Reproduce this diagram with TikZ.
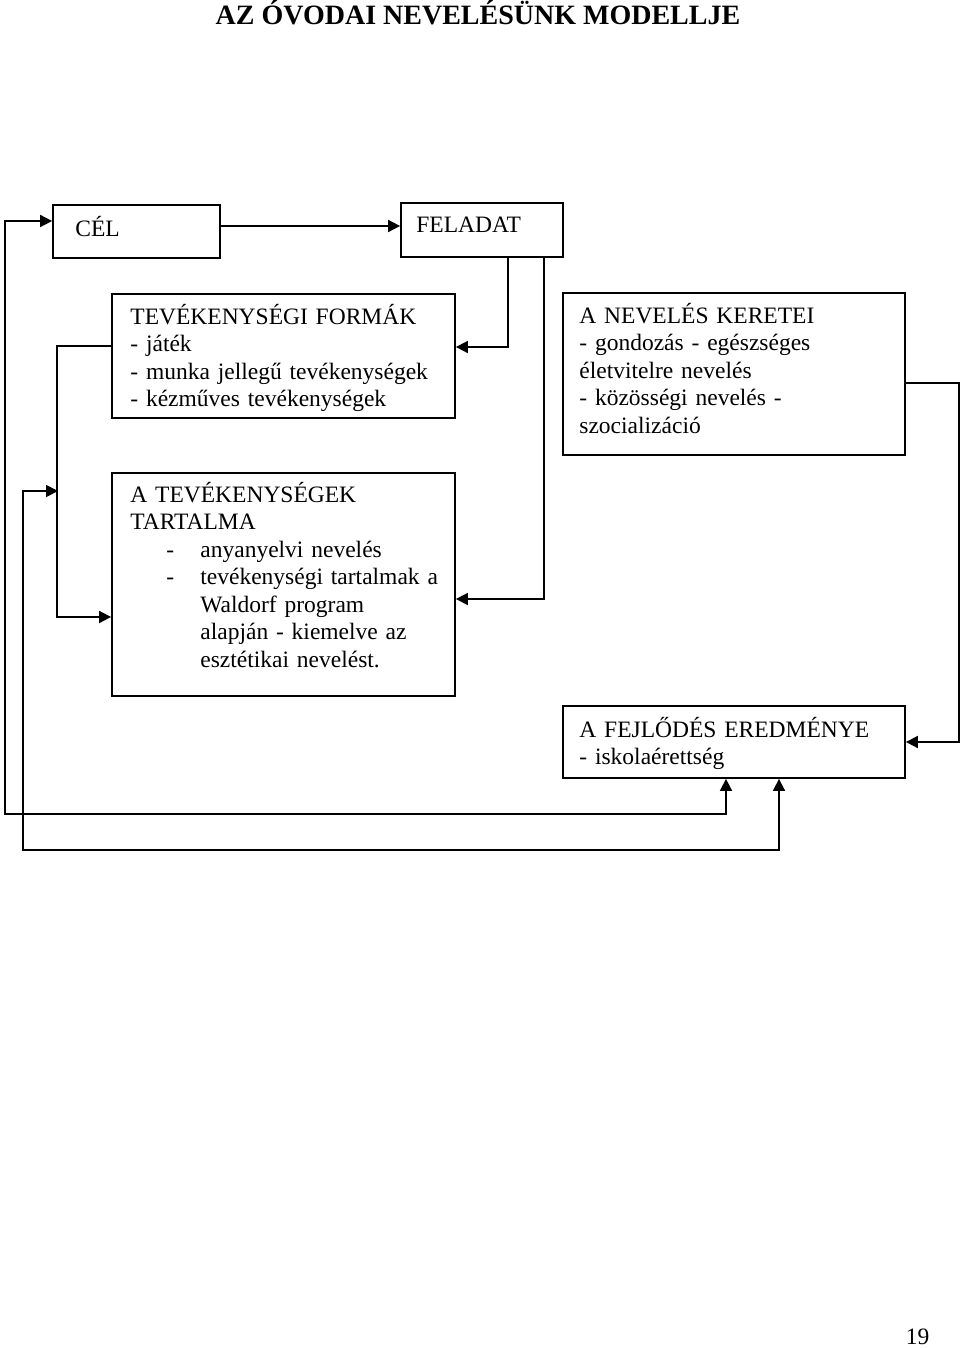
\documentclass[tikz,border=0pt]{standalone}
\usepackage{fontspec}
\setmainfont{Liberation Serif}
\usetikzlibrary{arrows.meta}
\begin{document}
\begin{tikzpicture}[x=0.5pt,y=-0.5pt,
  every node/.style={font=\fontsize{11.75pt}{13.75pt}\selectfont},
  box/.style={draw, line width=0.9pt, inner sep=0pt},
  txt/.style={anchor=base west, inner sep=0pt, align=left, text width=180pt},
  conn/.style={line width=0.9pt},
  >={Triangle[length=6pt,width=6pt]}]
\useasboundingbox (0,0) rectangle (960,1348);
\fill[white] (0,0) rectangle (960,1348);

% title and page number
\node[font=\fontsize{14pt}{16pt}\selectfont\bfseries, anchor=base, inner sep=0pt] (title) at (478,24.5) {AZ ÓVODAI NEVELÉSÜNK MODELLJE};
\node[anchor=base, inner sep=0pt] (pagenum) at (917.5,1344) {19};

% boxes
\node[box, minimum width=83.5pt, minimum height=26.5pt] (cel) at (136.5,231.5) {};
\node[box, minimum width=81pt, minimum height=27pt] (feladat) at (482,230) {};
\node[box, minimum width=171.5pt, minimum height=62pt] (formak) at (283.5,356) {};
\node[box, minimum width=171pt, minimum height=81pt] (keretei) at (734,374) {};
\node[box, minimum width=171.5pt, minimum height=111.5pt] (tartalma) at (283.5,584.5) {};
\node[box, minimum width=171pt, minimum height=36pt] (eredmeny) at (734,742) {};

% texts
\node[txt] (celt) at (75,236) {CÉL};
\node[txt] (feladatt) at (416,233) {FELADAT};
\node[txt] (formakt) at (130,324) {TEVÉKENYSÉGI FORMÁK\\- játék\\- munka jellegű tevékenységek\\- kézműves tevékenységek};
\node[txt] (kereteit) at (579,323) {A NEVELÉS KERETEI\\- gondozás - egészséges\\életvitelre nevelés\\- közösségi nevelés -\\szocializáció};
\node[txt] (tartalmat) at (130,502) {A TEVÉKENYSÉGEK\\TARTALMA\\\hspace*{18pt}\makebox[17pt][l]{-}anyanyelvi nevelés\\\hspace*{18pt}\makebox[17pt][l]{-}tevékenységi tartalmak a\\\hspace*{35pt}Waldorf program\\\hspace*{35pt}alapján - kiemelve az\\\hspace*{35pt}esztétikai nevelést.};
\node[txt] (eredmenyt) at (579,737) {A FEJLŐDÉS EREDMÉNYE\\- iskolaérettség};

% connectors
\coordinate (j) at (58,491);
\draw[conn, <->] ([yshift=5.25pt]cel.west) -| (5,814) -| ([xshift=-4pt]eredmeny.south);
\draw[conn, ->] ([yshift=2.75pt]cel.east) -- ([yshift=2pt]feladat.west);
\draw[conn, ->] ([xshift=13pt]feladat.south) |- ([yshift=4.5pt]formak.east);
\draw[conn, ->] ([xshift=31pt]feladat.south) |- ([yshift=-7.25pt]tartalma.east);
\draw[conn, ->] ([yshift=-4.5pt]keretei.east) -- ++(53,0) |- (eredmeny.east);
\draw[conn, ->] ([yshift=5pt]formak.west) -- ++(-54,0) |- ([yshift=-16.25pt]tartalma.west);
\draw[conn, <->] (j) -| (23,850) -| ([xshift=22.5pt]eredmeny.south);
\end{tikzpicture}
\end{document}
